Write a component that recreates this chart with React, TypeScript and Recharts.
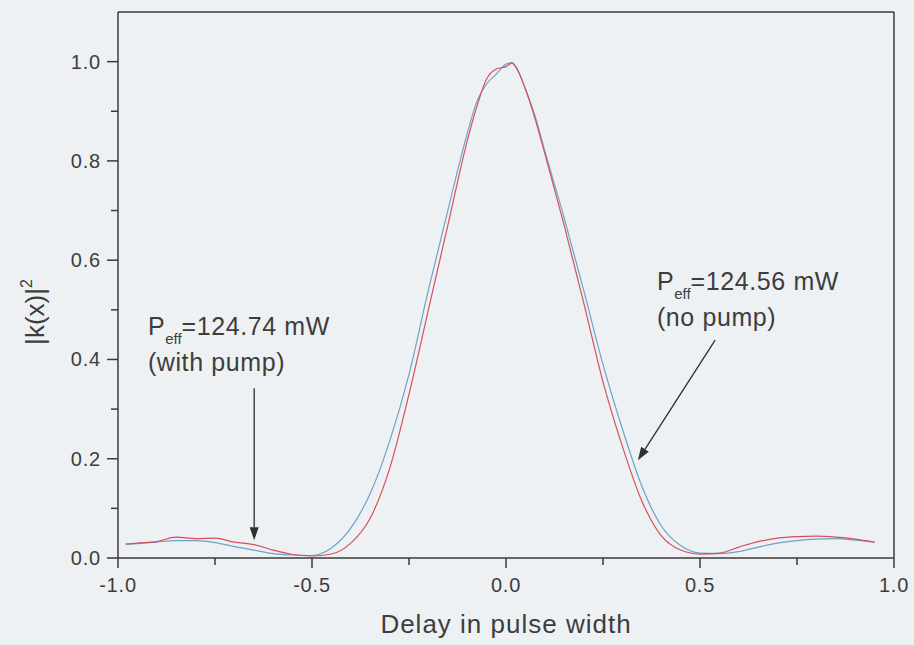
import { LineChart, Line, XAxis, YAxis, ReferenceLine, ReferenceDot } from 'recharts';

// delay in pulse widths, shared by both traces
const DELAY = [
  -0.98, -0.95, -0.9, -0.85, -0.8, -0.75, -0.7, -0.65, -0.6, -0.55, -0.5, -0.45, -0.4, -0.35,
  -0.3, -0.25, -0.2, -0.15, -0.1, -0.075, -0.05, -0.025, 0, 0.015, 0.025, 0.05, 0.075, 0.1,
  0.15, 0.2, 0.25, 0.3, 0.35, 0.4, 0.45, 0.5, 0.55, 0.6, 0.65, 0.7, 0.75, 0.8, 0.85, 0.9, 0.95,
];

// blue trace, P_eff = 124.56 mW (no pump)
const NO_PUMP = [
  0.028, 0.029, 0.032, 0.035, 0.035, 0.031, 0.023, 0.016, 0.009, 0.006, 0.005, 0.02, 0.06, 0.13,
  0.235, 0.37, 0.54, 0.7, 0.855, 0.92, 0.955, 0.975, 0.995, 0.998, 0.99, 0.945, 0.89, 0.82,
  0.685, 0.54, 0.39, 0.26, 0.145, 0.065, 0.025, 0.01, 0.009, 0.013, 0.022, 0.03, 0.035, 0.038, 0.039, 0.036, 0.032,
];

// red trace, P_eff = 124.74 mW (with pump)
const WITH_PUMP = [
  0.028, 0.03, 0.033, 0.042, 0.039, 0.04, 0.032, 0.027, 0.016, 0.007, 0.004, 0.008, 0.03, 0.08,
  0.18, 0.33, 0.5, 0.67, 0.84, 0.91, 0.965, 0.985, 0.99, 0.997, 0.99, 0.945, 0.885, 0.815,
  0.67, 0.515, 0.355, 0.225, 0.115, 0.045, 0.016, 0.008, 0.01, 0.022, 0.033, 0.04, 0.043, 0.044, 0.042, 0.038, 0.032,
];

const X_TICKS = [-1, -0.75, -0.5, -0.25, 0, 0.25, 0.5, 0.75, 1];
const Y_TICKS = [0, 0.1, 0.2, 0.3, 0.4, 0.5, 0.6, 0.7, 0.8, 0.9, 1.0];

const AXIS = '#3a3a3a';
const TEXT = '#3d3d3d';
const FONT = '"Liberation Sans", Arial, sans-serif';

const data = DELAY.map((d, i) => ({ delay: d, noPump: NO_PUMP[i], withPump: WITH_PUMP[i] }));

const XTick = ({ x, y, payload }: any) => {
  const v = payload.value as number;
  const major = Math.abs(v * 2 - Math.round(v * 2)) < 1e-6;
  return (
    <g>
      <line x1={x} x2={x} y1={y} y2={y + (major ? 10 : 7)} stroke={AXIS} strokeWidth={1.5} />
      {major && (
        <text x={x} y={y + 34} textAnchor="middle" fontSize={20} letterSpacing={0.8} fill={TEXT} fontFamily={FONT}>
          {v.toFixed(1)}
        </text>
      )}
    </g>
  );
};

const YTick = ({ x, y, payload }: any) => {
  const v = payload.value as number;
  const major = Math.round(v * 10) % 2 === 0;
  return (
    <g>
      <line x1={x} x2={x - (major ? 11 : 7)} y1={y} y2={y} stroke={AXIS} strokeWidth={1.5} />
      {major && (
        <text x={x - 17} y={y + 7} textAnchor="end" fontSize={20} letterSpacing={0.8} fill={TEXT} fontFamily={FONT}>
          {v.toFixed(1)}
        </text>
      )}
    </g>
  );
};

const Arrow = ({ x1, y1, x2, y2 }: any) => {
  const dx = x2 - x1;
  const dy = y2 - y1;
  const len = Math.sqrt(dx * dx + dy * dy) || 1;
  const ux = dx / len;
  const uy = dy / len;
  const bx = x2 - ux * 13;
  const by = y2 - uy * 13;
  return (
    <g>
      <line x1={x1} y1={y1} x2={bx} y2={by} stroke="#2e2e2e" strokeWidth={1.3} />
      <polygon
        points={`${x2},${y2} ${bx - uy * 4.5},${by + ux * 4.5} ${bx + uy * 4.5},${by - ux * 4.5}`}
        fill="#2e2e2e"
      />
    </g>
  );
};

const note = (power: string, sub: string) => ({ cx, cy }: any) => (
  <g fill={TEXT} fontFamily={FONT}>
    <text x={cx} y={cy} fontSize={25} letterSpacing={0.6}>
      P
      <tspan fontSize={15} dy={9} letterSpacing={0}>eff</tspan>
      <tspan dy={-9}>{power}</tspan>
    </text>
    <text x={cx} y={cy + 36} fontSize={25} letterSpacing={0.6}>
      {sub}
    </text>
  </g>
);

export default function App() {
  return (
    <div style={{ position: 'absolute', left: 0, top: 0, width: 914, height: 645, background: '#eef1f4' }}>
      <LineChart width={914} height={645} data={data} margin={{ top: 12, right: 20, bottom: 0, left: 0 }}>
        <XAxis
          dataKey="delay"
          type="number"
          domain={[-1, 1]}
          ticks={X_TICKS}
          interval={0}
          height={87}
          tickSize={0}
          tickMargin={0}
          tickLine={false}
          tick={(p: any) => <XTick {...p} />}
          axisLine={{ stroke: AXIS, strokeWidth: 1.5 }}
          label={({ viewBox }: any) => (
            <text
              x={viewBox.x + viewBox.width / 2}
              y={viewBox.y + 75}
              textAnchor="middle"
              fontSize={26}
              letterSpacing={1}
              fill={TEXT}
              fontFamily={FONT}
            >
              Delay in pulse width
            </text>
          )}
        />
        <YAxis
          type="number"
          domain={[0, 1.1]}
          ticks={Y_TICKS}
          interval={0}
          width={118}
          tickSize={0}
          tickMargin={0}
          tickLine={false}
          tick={(p: any) => <YTick {...p} />}
          axisLine={{ stroke: AXIS, strokeWidth: 1.5 }}
          label={({ viewBox }: any) => {
            const cx = viewBox.x + 44;
            const cy = viewBox.y + viewBox.height / 2 + 27;
            return (
              <text
                x={cx}
                y={cy}
                transform={`rotate(-90 ${cx} ${cy})`}
                textAnchor="middle"
                fontSize={26}
                fill={TEXT}
                fontFamily={FONT}
              >
                |k(x)|
                <tspan fontSize={16} dy={-12}>2</tspan>
              </text>
            );
          }}
        />
        <ReferenceLine y={1.1} stroke={AXIS} strokeWidth={1.5} />
        <ReferenceLine x={1} stroke={AXIS} strokeWidth={1.5} />
        <Line type="monotone" dataKey="noPump" stroke="#6ea2c8" strokeWidth={1.2} dot={false} isAnimationActive={false} />
        <Line type="monotone" dataKey="withPump" stroke="#d6505c" strokeWidth={1.2} dot={false} isAnimationActive={false} />
        <ReferenceLine segment={[{ x: -0.649, y: 0.342 }, { x: -0.649, y: 0.036 }]} shape={(p: any) => <Arrow {...p} />} />
        <ReferenceLine segment={[{ x: 0.539, y: 0.439 }, { x: 0.34, y: 0.197 }]} shape={(p: any) => <Arrow {...p} />} />
        <ReferenceDot x={-0.923} y={0.449} r={0} shape={note('=124.74 mW', '(with pump)')} />
        <ReferenceDot x={0.389} y={0.539} r={0} shape={note('=124.56 mW', '(no pump)')} />
      </LineChart>
    </div>
  );
}
